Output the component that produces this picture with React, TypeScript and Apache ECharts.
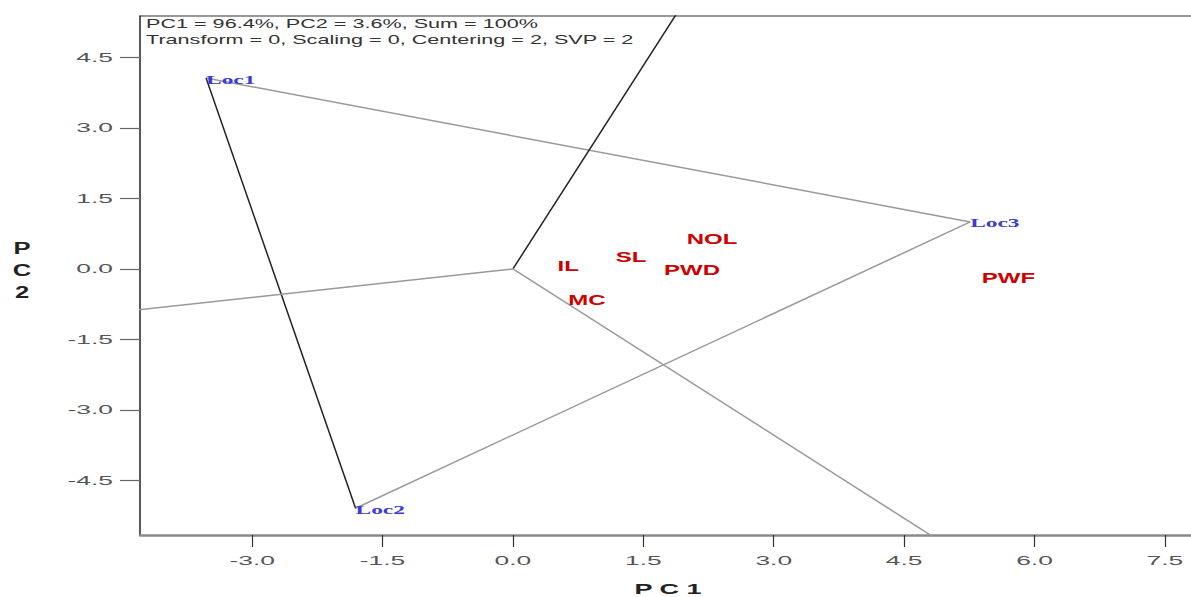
import React, { useEffect, useRef } from "react";
import * as echarts from "echarts";

const genotypes = ["NOL", "SL", "IL", "PWD", "MC", "PWF"];
const genoPC1 = [2.29, 1.36, 0.635, 2.06, 0.85, 5.7];
const genoPC2 = [0.65, 0.26, 0.06, -0.02, -0.66, -0.18];

const envs = ["Loc1", "Loc2", "Loc3"];
const envPC1 = [-3.53, -1.81, 5.26];
const envPC2 = [4.06, -5.09, 1.0];

// ray end points (beyond the plot, clipped)
const rayPC1 = [2.24, -5.15, 5.76];
const rayPC2 = [6.46, -1.04, -6.79];
const rayColors = ["#222222", "#999999", "#999999"];

const xTicks = [-3.0, -1.5, 0.0, 1.5, 3.0, 4.5, 6.0, 7.5];
const yTicks = [-4.5, -3.0, -1.5, 0.0, 1.5, 3.0, 4.5];

const X_MIN = -4.29;
const X_MAX = 7.8;
const Y_MIN = -5.66;
const Y_MAX = 5.38;

const headerLines = [
  "PC1 = 96.4%, PC2 = 3.6%, Sum = 100%",
  "Transform = 0, Scaling = 0, Centering = 2, SVP = 2",
];

const SANS = "Liberation Sans, Arial, sans-serif";
const SERIF = "Liberation Serif, Times New Roman, serif";

function textSeries(points: number[][], labels: string[], cfg: any) {
  return {
    type: "custom",
    coordinateSystem: "cartesian2d",
    clip: false,
    silent: true,
    z: 10,
    data: points,
    renderItem: (params: any, api: any) => {
      const p = api.coord([api.value(0), api.value(1)]);
      return {
        type: "text",
        x: p[0] + (cfg.dx || 0),
        y: p[1] + (cfg.dy || 0),
        scaleX: cfg.scaleX || 1,
        style: {
          text: labels[params.dataIndex],
          fill: cfg.color,
          fontSize: cfg.fontSize,
          fontWeight: cfg.fontWeight || "normal",
          fontFamily: cfg.fontFamily,
          align: cfg.align || "center",
          verticalAlign: "middle",
        },
      };
    },
  };
}

export default function App() {
  const ref = useRef<HTMLDivElement>(null);
  useEffect(() => {
    if (!ref.current) return;
    const chart = echarts.init(ref.current, undefined, { renderer: "svg" });
    const series: any[] = [];
    // polygon sides: Loc1->Loc3 (gray), Loc3->Loc2 (gray), Loc2->Loc1 (black)
    const sides = [
      [0, 2, "#999999"],
      [2, 1, "#999999"],
      [1, 0, "#222222"],
    ];
    sides.forEach(([a, b, c]: any) => {
      series.push({
        type: "line",
        data: [
          [envPC1[a], envPC2[a]],
          [envPC1[b], envPC2[b]],
        ],
        symbol: "none",
        clip: true,
        lineStyle: { color: c, width: 1.5 },
        silent: true,
      });
    });
    rayPC1.forEach((x, i) => {
      series.push({
        type: "line",
        data: [
          [0, 0],
          [x, rayPC2[i]],
        ],
        symbol: "none",
        clip: true,
        lineStyle: { color: rayColors[i], width: 1.5 },
        silent: true,
      });
    });
    series.push(
      textSeries(
        genotypes.map((g, i) => [genoPC1[i], genoPC2[i]]),
        genotypes,
        { color: "#d00000", fontSize: 15, fontWeight: "bold", fontFamily: SANS, scaleX: 1.6 }
      )
    );
    series.push(
      textSeries(
        envs.map((g, i) => [envPC1[i], envPC2[i]]),
        envs,
        {
          color: "#3a3ad6",
          fontSize: 13,
          fontWeight: "bold",
          fontFamily: SERIF,
          scaleX: 1.8,
          align: "left",
          dx: 0,
          dy: 1,
        }
      )
    );
    // axis tick labels, placed through the axes' scales
    series.push(
      textSeries(
        xTicks.map((v) => [v, Y_MIN]),
        xTicks.map((v) => v.toFixed(1)),
        { color: "#555555", fontSize: 12, fontFamily: SANS, scaleX: 2.2, dy: 26 }
      )
    );
    series.push(
      textSeries(
        yTicks.map((v) => [X_MIN, v]),
        yTicks.map((v) => v.toFixed(1)),
        { color: "#555555", fontSize: 12, fontFamily: SANS, scaleX: 2.2, dx: -27, align: "right" }
      )
    );

    chart.setOption({
      animation: false,
      backgroundColor: "#ffffff",
      grid: { left: 140, right: 0, top: 16, bottom: 62, containLabel: false },
      xAxis: {
        type: "value",
        min: X_MIN,
        max: X_MAX,
        axisLine: { show: true, onZero: false, lineStyle: { color: "#8a8a8a", width: 2.5 } },
        axisTick: {
          show: true,
          customValues: xTicks,
          length: 12,
          lineStyle: { color: "#333333", width: 1.2 },
        },
        axisLabel: { show: false },
        splitLine: { show: false },
      },
      yAxis: {
        type: "value",
        min: Y_MIN,
        max: Y_MAX,
        axisLine: { show: true, onZero: false, lineStyle: { color: "#222222", width: 1.5 } },
        axisTick: {
          show: true,
          customValues: yTicks,
          length: 20,
          lineStyle: { color: "#666666", width: 1.2 },
        },
        axisLabel: { show: false },
        splitLine: { show: false },
      },
      graphic: [
        {
          type: "line",
          shape: { x1: 140, y1: 16, x2: 1191, y2: 16 },
          style: { stroke: "#999999", lineWidth: 2 },
          silent: true,
        },
        ...headerLines.map((t, i) => ({
          type: "text",
          x: 146,
          y: 24 + i * 16,
          scaleX: 1.8,
          style: {
            text: t,
            fill: "#333333",
            fontSize: 12,
            fontFamily: SANS,
            align: "left",
            verticalAlign: "middle",
          },
        })),
        {
          type: "text",
          x: 668,
          y: 589,
          scaleX: 1.8,
          style: {
            text: "P C 1",
            fill: "#222222",
            fontSize: 15,
            fontWeight: "bold",
            fontFamily: SANS,
            align: "center",
            verticalAlign: "middle",
          },
        },
        {
          type: "text",
          x: 22,
          y: 271,
          scaleX: 1.6,
          style: {
            text: "P\nC\n2",
            fill: "#222222",
            fontSize: 16,
            lineHeight: 22,
            fontWeight: "bold",
            fontFamily: SANS,
            align: "center",
            verticalAlign: "middle",
          },
        },
      ],
      series,
    });
    return () => chart.dispose();
  }, []);
  return (
    <div
      ref={ref}
      style={{ position: "absolute", left: 0, top: 0, width: 1191, height: 597, background: "#fff" }}
    />
  );
}
